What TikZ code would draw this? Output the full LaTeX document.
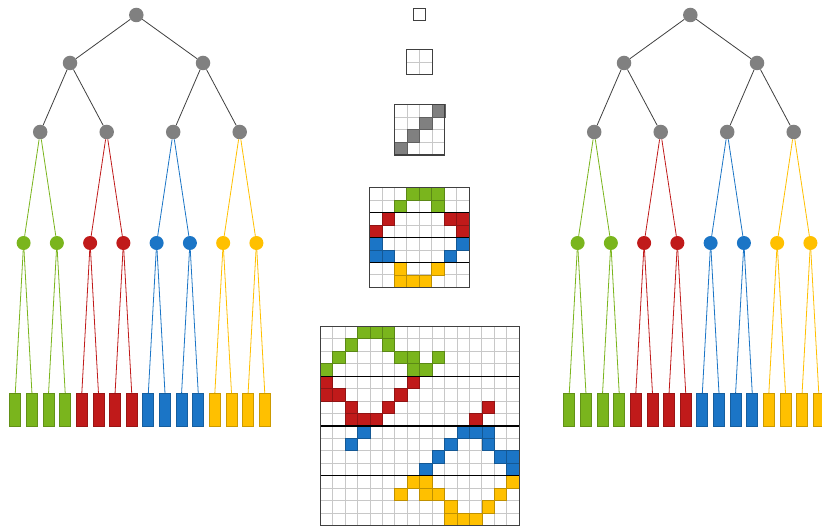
\documentclass[tikz,border=0pt]{standalone}
\definecolor{cg}{RGB}{122,181,29}
\definecolor{cr}{RGB}{192,26,26}
\definecolor{cb}{RGB}{27,117,198}
\definecolor{cy}{RGB}{255,192,0}
\definecolor{gn}{RGB}{128,128,128}
\definecolor{lgl}{RGB}{200,200,200}
\tikzset{
  gnode/.style={circle,fill=gn,inner sep=0,minimum size=14.5},
  cnode/.style={circle,inner sep=0,minimum size=14},
  leaf/.style={rectangle,inner sep=0,minimum width=11,minimum height=33,line width=0.8},
  tedge/.style={draw=black!75,line width=0.8},
  cedge/.style={line width=0.8},
  gline/.style={draw=lgl,line width=0.9},
  gborder/.style={draw=black!75,line width=1.1},
  sepline/.style={draw=black,line width=1.2},
}
\newcommand\drawgrid[4]{%
  \pgfmathsetmacro\gw{#3*#4}%
  \fill[white] (#1,#2) rectangle ++(\gw,\gw);
  \foreach \q in {1,...,#4}{%
    \draw[gline] ({#1+\q*#3},#2) -- ++(0,\gw);
    \draw[gline] (#1,{#2+\q*#3}) -- ++(\gw,0);
  }%
}
\newcommand\gridcells[5]{%
  \foreach \r/\c in {#5}{%
    \draw[fill=#4,draw=#4!75!black,line width=0.8] ({#1+\c*#3},{#2+\r*#3}) rectangle ++(#3,#3);
  }%
}
\newcommand\gridborder[4]{%
  \pgfmathsetmacro\gw{#3*#4}%
  \draw[gborder] (#1,#2) rectangle ++(\gw,\gw);
}
\begin{document}
\begin{tikzpicture}[x=1pt,y=-1pt]
\useasboundingbox (0,0) rectangle (822,526);
\fill[white] (0,0) rectangle (822,526);
% trees
\foreach \o/\p in {0/L,554/R}{
  \begin{scope}[xshift=\o]
    \node[gnode] (\p a) at (136.3,15) {};
    \node[gnode] (\p b1) at (70,63) {};
    \node[gnode] (\p b2) at (203,63) {};
    \draw[tedge] (\p a) -- (\p b1);
    \draw[tedge] (\p a) -- (\p b2);
    \foreach \i/\cc in {1/cg,2/cr,3/cb,4/cy}{
      \pgfmathsetmacro\xc{40.2+66.5*(\i-1)}
      \pgfmathtruncatemacro\pb{(\i+1)/2}
      \node[gnode] (\p c\i) at (\xc,132) {};
      \draw[tedge] (\p b\pb) -- (\p c\i);
      \foreach \s in {0,1}{
        \pgfmathtruncatemacro\j{2*\i-1+\s}
        \pgfmathsetmacro\xd{23.6+33.26*(\j-1)}
        \node[cnode,fill=\cc] (\p d\j) at (\xd,243) {};
        \draw[cedge,draw=\cc] (\p c\i) -- (\p d\j);
        \foreach \t in {0,1}{
          \pgfmathtruncatemacro\k{2*\j-1+\t}
          \pgfmathsetmacro\xe{15.3+16.63*(\k-1)}
          \node[leaf,fill=\cc,draw=\cc!80!black] (\p e\k) at (\xe,409.8) {};
          \draw[cedge,draw=\cc] (\p d\j) -- (\p e\k.north);
        }
      }
    }
  \end{scope}
}
% 1x1
\drawgrid{413.4}{8.3}{12.5}{1}
\gridborder{413.4}{8.3}{12.5}{1}
% 2x2
\drawgrid{406.9}{49.4}{12.7}{2}
\gridborder{406.9}{49.4}{12.7}{2}
% 4x4
\drawgrid{394.3}{104.4}{12.65}{4}
\gridcells{394.3}{104.4}{12.65}{gn}{0/3,1/2,2/1,3/0}
\gridborder{394.3}{104.4}{12.65}{4}
% 8x8
\drawgrid{369.5}{187.8}{12.45}{8}
\gridcells{369.5}{187.8}{12.45}{cg}{0/3,0/4,0/5,1/2,1/5}
\gridcells{369.5}{187.8}{12.45}{cr}{2/1,2/6,2/7,3/0,3/7}
\gridcells{369.5}{187.8}{12.45}{cb}{4/0,4/7,5/0,5/1,5/6}
\gridcells{369.5}{187.8}{12.45}{cy}{6/2,6/5,7/2,7/3,7/4}
\foreach \m in {2,4,6}{\draw[sepline] (369.5,{187.8+\m*12.45}) -- ++(99.6,0);}
\gridborder{369.5}{187.8}{12.45}{8}
% 16x16
\drawgrid{320.2}{326.4}{12.44}{16}
\gridcells{320.2}{326.4}{12.44}{cg}{0/3,0/4,0/5,1/2,1/5,2/1,2/6,2/7,2/9,3/0,3/7,3/8}
\gridcells{320.2}{326.4}{12.44}{cr}{4/0,4/7,5/0,5/1,5/6,6/2,6/5,6/13,7/2,7/3,7/4,7/12}
\gridcells{320.2}{326.4}{12.44}{cb}{8/3,8/11,8/12,8/13,9/2,9/10,9/13,10/9,10/14,10/15,11/8,11/15}
\gridcells{320.2}{326.4}{12.44}{cy}{12/7,12/8,12/15,13/6,13/8,13/9,13/14,14/10,14/13,15/10,15/11,15/12}
\foreach \m in {4,8,12}{\draw[sepline] (320.2,{326.4+\m*12.44}) -- ++(199.04,0);}
\gridborder{320.2}{326.4}{12.44}{16}
\end{tikzpicture}
\end{document}
